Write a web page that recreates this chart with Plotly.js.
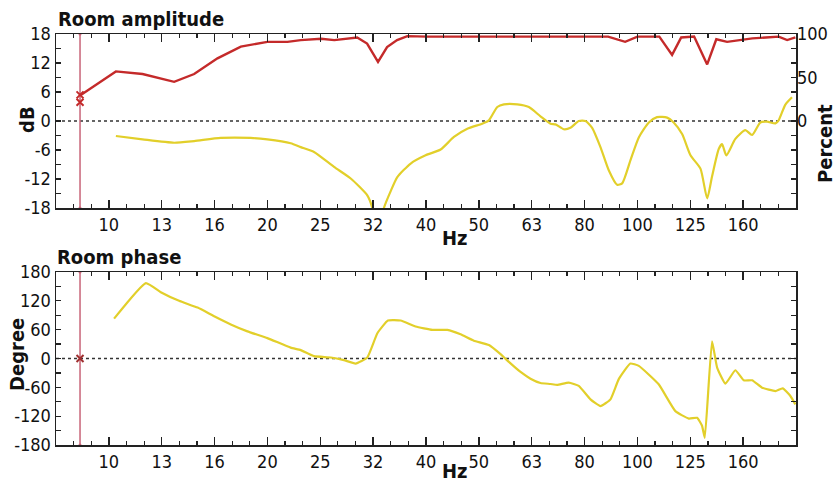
<!DOCTYPE html>
<html>
<head>
<meta charset="utf-8">
<script src="https://cdn.plot.ly/plotly-3.0.1.min.js"></script>
<style>
html,body{margin:0;padding:0;background:#fff;}
#chart{width:837px;height:484px;}
</style>
</head>
<body>
<div id="chart"></div>
<script>
// ---------- data ----------
const xTickVals = [10, 12.59, 15.85, 19.95, 25.12, 31.62, 39.81, 50.12, 63.10, 79.43, 100, 125.9, 158.5];
const xTickText = ['10','13','16','20','25','32','40','50','63','80','100','125','160'];

const dbTickVals = [-18,-15,-12,-9,-6,-3,0,3,6,9,12,15,18];
const dbTickText = ['-18','','-12','','-6','','0','','6','','12','','18'];
const pctTickVals = [0, 50, 100];
const pctTickText = ['0','50','100'];
const degTickVals = [-180,-150,-120,-90,-60,-30,0,30,60,90,120,150,180];
const degTickText = ['-180','','-120','','-60','','0','','60','','120','','180'];

// red curve (percent, right axis)
const pctFreq = [8.85, 10.31, 11.58, 13.29, 14.50, 16.05, 17.77, 19.95, 21.77, 23.07, 25.2, 26.7, 29.5, 30.8, 32.3, 33.6, 35.1, 36.7, 40, 45, 50, 56, 63, 71, 80, 88, 94.8, 100, 110, 116.3, 121, 128, 135.5, 141, 147.8, 155, 165, 175, 185, 192, 196, 199];
const pctVals = [30, 57, 54, 45, 54, 72, 85.5, 91, 91, 93, 94.5, 93, 96, 89, 68, 85, 93, 97.5, 97, 97, 97, 97, 97, 97, 97, 97, 91, 97, 97, 76, 96, 97, 65, 94, 91, 93, 95, 96, 97, 93, 95, 96];

// yellow curve (dB, left axis)
const magFreq = [10.31, 11.58, 13.29, 14.50, 16.28, 18.55, 19.95, 22.08, 23.07, 24.44, 26.67, 28.68, 30.83, 31.51, 32.25, 33.14, 34.2, 35.13, 37.24, 39.74, 42.43, 44.96, 47.66, 50.87, 52.36, 54.31, 55.90, 59.25, 62.31, 65.55, 68.47, 69.98, 72.56, 74.70, 77.45, 79.74, 82.10, 85.13, 88.26, 91.53, 93.56, 96.96, 100.6, 105.1, 108.9, 113.8, 117.1, 121.5, 126.0, 131.6, 135.5, 138.4, 142.5, 144.6, 147.3, 153.2, 160.0, 164.8, 170.8, 175.9, 182.4, 185.0, 190.5, 196.1];
const magDb = [-3.1, -3.8, -4.5, -4.15, -3.5, -3.5, -3.8, -4.6, -5.4, -6.4, -9.5, -11.9, -15.4, -18.0, -24, -18.0, -14.3, -11.6, -8.8, -7.1, -5.9, -3.3, -1.6, -0.55, 0.14, 2.9, 3.45, 3.45, 2.9, 0.97, -0.55, -0.7, -1.7, -1.4, 0, 0, -1.4, -5.4, -10.2, -13.2, -12.9, -8.2, -3.4, -0.3, 0.8, 0.7, -0.3, -2.7, -7.1, -9.85, -16, -11.5, -5.8, -4.8, -7.1, -3.7, -1.9, -2.9, -0.3, -0.14, -0.5, 0.14, 3.4, 4.9];

// phase curve (degree)
const phFreq = [10.23, 11.75, 12.54, 13.58, 14.72, 15.82, 17.01, 18.29, 19.95, 22.08, 23.07, 24.44, 26.29, 27.85, 29.30, 30.83, 32.21, 33.73, 35.65, 38.05, 40.92, 43.69, 46.28, 49.04, 52.36, 55.08, 57.11, 60.10, 62.76, 65.55, 68.47, 70.51, 74.15, 77.45, 81.50, 85.13, 88.92, 92.19, 96.96, 100.6, 109.7, 118.0, 125.1, 129.7, 132.5, 134.1, 138.4, 141.5, 146.7, 153.2, 158.9, 164.8, 172.1, 182.4, 188.3, 194.7, 199.0];
const phDeg = [83, 157, 138, 120, 106, 88, 71, 56.5, 42.4, 22.6, 17.5, 4.9, 2.1, -3.5, -10.5, 2.1, 52.5, 79, 79, 66.5, 59.5, 59.5, 50.4, 37.1, 28, 9.1, -7, -28, -42, -51, -53, -55, -50, -57, -85, -99, -85, -43, -10.5, -15.4, -53.7, -109.6, -125, -123.5, -140, -165, 35.6, -18.8, -52.3, -24.4, -45.4, -45.4, -60.7, -67.7, -62.1, -78, -95.6];

// cursor
const cursorFreq = [8.82];
const cursorPct = [30, 21.5];
const cursorDeg = [0];

// ---------- helpers ----------
const PW = 837, PH = 484;
const px = v => v / PW;
const py = v => 1 - v / PH;
const minorX = [];
for (let k = 0; k <= 42; k++) minorX.push(Math.pow(10, 0.9 + k / 30));

const FAM = 'Liberation Sans Narrow, Arial Narrow, DejaVu Sans Condensed, sans-serif';
const tickFont = {family: FAM, size: 18, color: '#111'};
const titleFont = {family: FAM, size: 20, color: '#111'};

const RED = '#c42a2a';
const YEL = '#e2cf2a';
const CUR = '#c86478';

function xAxis(anchor) {
  return {
    domain: [px(56), px(796)], anchor: anchor, type: 'log', range: [0.9, 2.3],
    tickmode: 'array', tickvals: xTickVals, ticktext: xTickText,
    ticks: 'inside', ticklen: 8, tickwidth: 1.5, tickcolor: '#222',
    minor: {tickmode: 'array', tickvals: minorX, ticks: 'inside', ticklen: 4, tickwidth: 1.2, tickcolor: '#222', showgrid: false},
    showline: true, linecolor: '#222', linewidth: 1.5, mirror: 'ticks',
    showgrid: false, zeroline: false, tickfont: tickFont, fixedrange: true
  };
}
function yAxis(domain, range, vals, text) {
  return {
    domain: domain, range: range, tickmode: 'array', tickvals: vals, ticktext: text,
    ticks: 'inside', ticklen: 5, tickwidth: 1.2, tickcolor: '#222',
    showline: true, linecolor: '#222', linewidth: 1.5, mirror: 'ticks',
    showgrid: false, zeroline: false, tickfont: tickFont, fixedrange: true
  };
}

const traces = [
  {x: [cursorFreq[0], cursorFreq[0]], y: [-18, 18], xaxis: 'x', yaxis: 'y', mode: 'lines+markers',
   line: {color: CUR, width: 1.5}, marker: {size: 3, color: CUR}, hoverinfo: 'skip'},
  {x: magFreq, y: magDb, xaxis: 'x', yaxis: 'y', mode: 'lines', line: {color: YEL, width: 2.2, shape: 'spline', smoothing: 0.6}},
  {x: pctFreq, y: pctVals, xaxis: 'x', yaxis: 'y2', mode: 'lines', line: {color: RED, width: 2.4}},
  {x: [cursorFreq[0], cursorFreq[0]], y: cursorPct, xaxis: 'x', yaxis: 'y2', mode: 'markers',
   marker: {symbol: 'x-thin-open', size: 7, color: RED, line: {width: 2, color: RED}}},
  {x: [cursorFreq[0], cursorFreq[0]], y: [-180, 180], xaxis: 'x2', yaxis: 'y3', mode: 'lines+markers',
   line: {color: CUR, width: 1.5}, marker: {size: 3, color: CUR}, hoverinfo: 'skip'},
  {x: phFreq, y: phDeg, xaxis: 'x2', yaxis: 'y3', mode: 'lines', line: {color: YEL, width: 2.2, shape: 'spline', smoothing: 0.4}},
  {x: cursorFreq, y: cursorDeg, xaxis: 'x2', yaxis: 'y3', mode: 'markers',
   marker: {symbol: 'x-thin-open', size: 7, color: '#a03030', line: {width: 2, color: '#a03030'}}}
];

const layout = {
  width: PW, height: PH, margin: {l: 0, r: 0, t: 0, b: 0},
  paper_bgcolor: '#fff', plot_bgcolor: '#fff', showlegend: false,
  xaxis: xAxis('y'),
  yaxis: yAxis([py(208), py(34)], [-18, 18], dbTickVals, dbTickText),
  yaxis2: {overlaying: 'y', side: 'right', anchor: 'x', range: [-100, 100], tickmode: 'array',
           tickvals: pctTickVals, ticktext: pctTickText, ticks: '', showline: false, showgrid: false,
           zeroline: false, tickfont: tickFont, fixedrange: true},
  xaxis2: xAxis('y3'),
  yaxis3: yAxis([py(445), py(272)], [-180, 180], degTickVals, degTickText),
  shapes: [
    {type: 'line', xref: 'x domain', yref: 'y', x0: 0, x1: 1, y0: 0, y1: 0, line: {color: '#333', width: 1.5, dash: 'dot'}, layer: 'below'},
    {type: 'line', xref: 'x2 domain', yref: 'y3', x0: 0, x1: 1, y0: 0, y1: 0, line: {color: '#333', width: 1.5, dash: 'dot'}, layer: 'below'}
  ],
  annotations: [
    {text: '<b>Room amplitude</b>', xref: 'paper', yref: 'paper', x: px(56), y: py(19), xanchor: 'left', yanchor: 'middle', showarrow: false, font: titleFont},
    {text: '<b>Room phase</b>', xref: 'paper', yref: 'paper', x: px(55), y: py(257), xanchor: 'left', yanchor: 'middle', showarrow: false, font: titleFont},
    {text: '<b>dB</b>', xref: 'paper', yref: 'paper', x: px(27), y: py(120), xanchor: 'center', yanchor: 'middle', textangle: -90, showarrow: false, font: titleFont},
    {text: '<b>Percent</b>', xref: 'paper', yref: 'paper', x: px(825), y: py(144), xanchor: 'center', yanchor: 'middle', textangle: -90, showarrow: false, font: titleFont},
    {text: '<b>Hz</b>', xref: 'paper', yref: 'paper', x: px(455), y: py(238), xanchor: 'center', yanchor: 'middle', showarrow: false, font: titleFont},
    {text: '<b>Degree</b>', xref: 'paper', yref: 'paper', x: px(17), y: py(355), xanchor: 'center', yanchor: 'middle', textangle: -90, showarrow: false, font: titleFont},
    {text: '<b>Hz</b>', xref: 'paper', yref: 'paper', x: px(455), y: py(471), xanchor: 'center', yanchor: 'middle', showarrow: false, font: titleFont}
  ]
};

Plotly.newPlot('chart', traces, layout, {staticPlot: true, displayModeBar: false});
</script>
</body>
</html>
